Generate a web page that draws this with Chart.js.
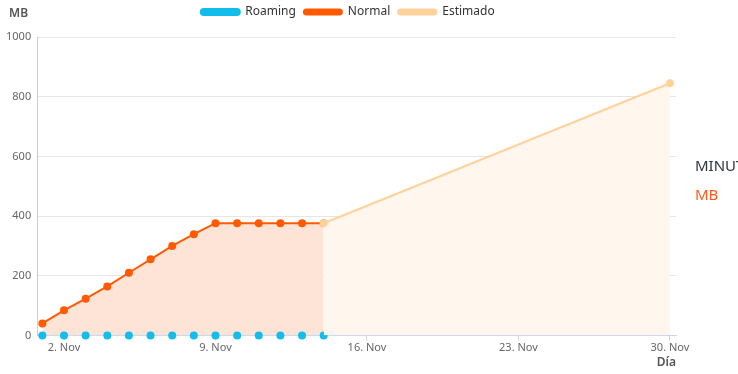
<!DOCTYPE html>
<html>
<head>
<meta charset="utf-8">
<script src="https://cdn.jsdelivr.net/npm/chart.js@4"></script>
<style>
  html, body { margin: 0; padding: 0; background: #fff; overflow: hidden; }
  #wrap { position: relative; width: 738px; height: 374px; }
  #yTitle { position: absolute; left: 9px; top: 4px; font: 600 12px "Noto Sans", sans-serif; color: #555; }
  .unit { position: absolute; left: 695px; font: 15px "Noto Sans", sans-serif; white-space: nowrap; }
  #uMin { top: 155px; color: #2b3440; }
  #uMb { top: 184px; color: #ff5a1f; }
</style>
</head>
<body>
<div id="wrap">
  <canvas id="usageChart"></canvas>
  <div id="yTitle">MB</div>
  <div class="unit" id="uMin">MINUTOS</div>
  <div class="unit" id="uMb">MB</div>
</div>
<script>
// days of November
const days = [1, 2, 3, 4, 5, 6, 7, 8, 9, 10, 11, 12, 13, 14];
const roaming = [0, 0, 0, 0, 0, 0, 0, 0, 0, 0, 0, 0, 0, 0];
const normal = [40, 84, 123, 164, 210, 255, 300, 339, 376, 376, 376, 376, 376, 376];
const estimadoDays = [14, 30];
const estimado = [376, 845];
const xTicks = [2, 9, 16, 23, 30];
const yTicks = [0, 200, 400, 600, 800, 1000];

function toPoints(xs, ys) {
    var data = [];
    for (let i = 0; i < xs.length; i++) {
        data.push({ x: xs[i], y: ys[i] });
    }
    return data;
}

const fontFamily = '"Noto Sans", sans-serif';

// push the plot area down a bit below the legend, and nudge legend right
const legendMargin = {
    id: 'legendMargin',
    beforeInit(chart) {
        const fit = chart.legend.fit;
        chart.legend.fit = function () {
            fit.bind(chart.legend)();
            this.height += 9;
        };
    },
    afterLayout(chart) {
        chart.legend.left += 10;
        chart.legend.right += 10;
    }
};

const ctx = document.getElementById('usageChart').getContext('2d');
const usageChart = new Chart(ctx, {
    type: 'line',
    data: {
        datasets: [{
            label: 'Roaming',
            data: toPoints(days, roaming),
            borderColor: '#12bdec',
            backgroundColor: '#12bdec',
            pointBackgroundColor: '#12bdec',
            pointBorderWidth: 0,
            pointRadius: 4,
            showLine: false,
            clip: false,
            order: 1
        }, {
            label: 'Normal',
            data: toPoints(days, normal),
            borderColor: '#ff5a00',
            backgroundColor: '#ff5a00',
            pointBackgroundColor: '#ff5a00',
            pointBorderWidth: 0,
            pointRadius: 4,
            borderWidth: 2,
            clip: false,
            fill: { target: 'origin', above: '#fee4d6' },
            order: 2
        }, {
            label: 'Estimado',
            data: toPoints(estimadoDays, estimado),
            borderColor: '#ffd29b',
            backgroundColor: '#ffd29b',
            pointBackgroundColor: '#ffd29b',
            pointBorderWidth: 0,
            pointRadius: 4,
            borderWidth: 2,
            clip: false,
            fill: { target: 'origin', above: '#fff6ee' },
            order: 0
        }]
    },
    options: {
        responsive: true,
        maintainAspectRatio: false,
        animation: false,
        layout: { padding: { top: -2, right: 62, left: 0, bottom: 4 } },
        plugins: {
            tooltip: { enabled: false },
            legend: {
                position: 'top',
                labels: {
                    sort: (a, b) => a.datasetIndex - b.datasetIndex,
                    boxWidth: 38,
                    boxHeight: 5,
                    useBorderRadius: true,
                    borderRadius: 2.5,
                    padding: 8,
                    color: '#333',
                    font: { family: fontFamily, size: 12 }
                }
            }
        },
        scales: {
            x: {
                type: 'linear',
                min: 0.76,
                max: 30.28,
                afterBuildTicks: (axis) => { axis.ticks = xTicks.map(v => ({ value: v })); },
                ticks: {
                    callback: (v) => v + '. Nov',
                    color: '#666',
                    maxRotation: 0,
                    autoSkip: false,
                    padding: 1,
                    font: { family: fontFamily, size: 11 }
                },
                grid: { drawOnChartArea: false, drawTicks: true, tickLength: 5, color: '#ccd6eb' },
                border: { display: true, color: '#ccd6eb' },
                title: {
                    display: true,
                    text: 'Día',
                    align: 'end',
                    color: '#555',
                    padding: { top: 0, bottom: 0 },
                    font: { family: fontFamily, size: 12, weight: '600' }
                }
            },
            y: {
                min: 0,
                max: 1000,
                afterBuildTicks: (axis) => { axis.ticks = yTicks.map(v => ({ value: v })); },
                ticks: {
                    callback: (v) => String(v),
                    color: '#666',
                    padding: 6,
                    font: { family: fontFamily, size: 11 }
                },
                grid: { color: '#e6e6e6', drawTicks: false },
                border: { display: true, color: '#cccccc' }
            }
        }
    },
    plugins: [legendMargin]
});
</script>
</body>
</html>
